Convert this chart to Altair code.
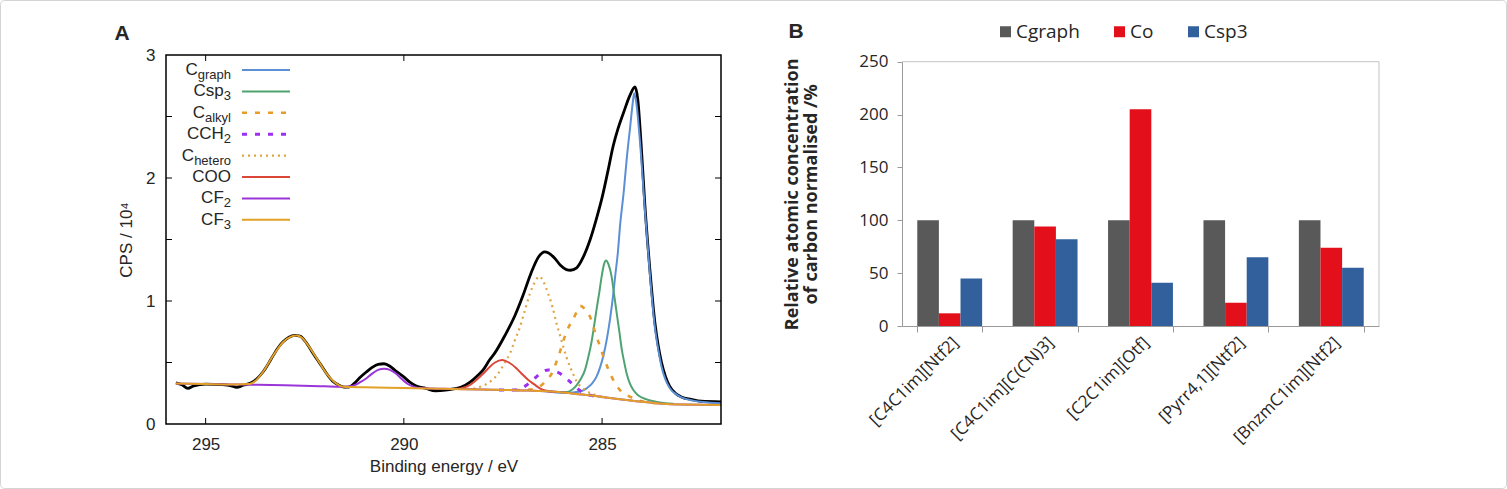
import altair as alt
import pandas as pd

# ---------------- Panel A: XPS C 1s spectrum ----------------
# (binding energy / eV, CPS / 1e4)
MEASURED = [(295.75, 0.335), (295.6, 0.32), (295.45, 0.29), (295.3, 0.31), (295.0, 0.325), (294.6, 0.32),
            (294.35, 0.31), (294.22, 0.298), (294.05, 0.315), (293.85, 0.335), (293.7, 0.37), (293.55, 0.425),
            (293.4, 0.5), (293.29, 0.56), (293.15, 0.63), (293.04, 0.67), (292.9, 0.705), (292.75, 0.72),
            (292.62, 0.715), (292.45, 0.655), (292.3, 0.58), (292.2, 0.53), (292.05, 0.46), (291.95, 0.41),
            (291.8, 0.35), (291.69, 0.325), (291.5, 0.3), (291.4, 0.3), (291.25, 0.33), (291.1, 0.38),
            (290.94, 0.425), (290.8, 0.46), (290.65, 0.485), (290.5, 0.49), (290.35, 0.47), (290.2, 0.43),
            (290.01, 0.385), (289.85, 0.34), (289.7, 0.31), (289.45, 0.29), (289.2, 0.27), (288.95, 0.275),
            (288.75, 0.285), (288.55, 0.3), (288.33, 0.34), (288.15, 0.39), (288.0, 0.44), (287.84, 0.52),
            (287.7, 0.58), (287.45, 0.72), (287.2, 0.88), (287.0, 1.04), (286.8, 1.22), (286.6, 1.36),
            (286.45, 1.4), (286.35, 1.39), (286.2, 1.35), (286.05, 1.29), (285.9, 1.255), (285.8, 1.25),
            (285.64, 1.27), (285.47, 1.36), (285.3, 1.5), (285.15, 1.66), (285.0, 1.84), (284.85, 2.06),
            (284.72, 2.26), (284.6, 2.4), (284.46, 2.53), (284.3, 2.67), (284.17, 2.74), (284.1, 2.64),
            (284.02, 2.3), (283.92, 1.78), (283.79, 1.24), (283.67, 0.83), (283.58, 0.63), (283.5, 0.5),
            (283.4, 0.385), (283.3, 0.31), (283.15, 0.25), (283.0, 0.22), (282.75, 0.2), (282.5, 0.185),
            (282.0, 0.18)]

C_GRAPH = [(286.5, 0.268), (285.9, 0.252), (285.73, 0.256), (285.5, 0.27), (285.39, 0.29), (285.25, 0.33),
           (285.14, 0.385), (285.05, 0.46), (284.97, 0.55), (284.88, 0.69), (284.8, 0.85), (284.72, 1.05),
           (284.67, 1.2), (284.6, 1.4), (284.55, 1.6), (284.45, 1.9), (284.38, 2.15), (284.29, 2.42),
           (284.23, 2.6), (284.19, 2.69), (284.14, 2.62), (284.04, 2.28), (283.92, 1.74), (283.79, 1.2),
           (283.67, 0.79), (283.58, 0.6), (283.5, 0.466), (283.4, 0.36), (283.29, 0.29), (283.1, 0.235),
           (282.95, 0.21), (282.7, 0.19), (282.45, 0.178), (282.0, 0.168)]

C_SP3 = [(286.3, 0.263), (285.89, 0.26), (285.75, 0.28), (285.64, 0.317), (285.53, 0.37), (285.43, 0.44),
         (285.35, 0.54), (285.27, 0.66), (285.2, 0.8), (285.14, 0.93), (285.07, 1.07), (285.01, 1.2),
         (284.95, 1.3), (284.9, 1.33), (284.84, 1.3), (284.76, 1.2), (284.7, 1.06), (284.63, 0.9),
         (284.56, 0.74), (284.5, 0.6), (284.44, 0.5), (284.38, 0.41), (284.3, 0.33), (284.21, 0.276),
         (284.1, 0.235), (283.96, 0.21), (283.62, 0.18), (283.2, 0.165)]

C_ALKYL = [(287.2, 0.275), (286.82, 0.28), (286.52, 0.317), (286.4, 0.36), (286.27, 0.41), (286.18, 0.48),
           (286.1, 0.55), (286.02, 0.63), (285.94, 0.71), (285.84, 0.79), (285.73, 0.85), (285.63, 0.92),
           (285.55, 0.96), (285.45, 0.94), (285.38, 0.91), (285.3, 0.87), (285.22, 0.79), (285.14, 0.71),
           (285.05, 0.63), (284.97, 0.55), (284.86, 0.46), (284.76, 0.385), (284.63, 0.31), (284.5, 0.26),
           (284.35, 0.23), (284.21, 0.21), (284.0, 0.185), (283.6, 0.168)]

C_CH2 = [(287.6, 0.277), (287.24, 0.276), (287.05, 0.29), (286.9, 0.317), (286.78, 0.35), (286.65, 0.385),
         (286.5, 0.425), (286.36, 0.44), (286.2, 0.43), (286.06, 0.41), (285.94, 0.38), (285.81, 0.344),
         (285.66, 0.3), (285.51, 0.26), (285.3, 0.235), (285.0, 0.22)]

C_HETERO = [(288.7, 0.285), (288.33, 0.285), (288.15, 0.295), (287.96, 0.317), (287.8, 0.35), (287.62, 0.41),
            (287.47, 0.49), (287.32, 0.575), (287.2, 0.68), (287.07, 0.79), (286.95, 0.92), (286.82, 1.06),
            (286.7, 1.15), (286.58, 1.2), (286.47, 1.15), (286.36, 1.06), (286.25, 0.95), (286.15, 0.82),
            (286.06, 0.72), (285.98, 0.63), (285.9, 0.545), (285.81, 0.466), (285.72, 0.4), (285.64, 0.344),
            (285.54, 0.305), (285.43, 0.276), (285.2, 0.24), (284.9, 0.215)]

C_COO = [(289.2, 0.285), (288.67, 0.285), (288.5, 0.295), (288.33, 0.317), (288.2, 0.35), (288.08, 0.385),
         (287.95, 0.425), (287.83, 0.466), (287.7, 0.5), (287.52, 0.52), (287.35, 0.5), (287.15, 0.45),
         (287.0, 0.4), (286.86, 0.358), (286.7, 0.32), (286.57, 0.29), (286.4, 0.27), (286.23, 0.26)]

C_F2 = [(295.75, 0.33), (295.0, 0.325), (294.3, 0.322), (293.9, 0.32), (293.0, 0.315), (292.0, 0.306),
        (291.6, 0.302), (291.3, 0.31), (291.1, 0.34), (290.95, 0.37), (290.8, 0.41), (290.65, 0.44),
        (290.5, 0.45), (290.35, 0.44), (290.2, 0.41), (290.05, 0.365), (289.9, 0.325), (289.72, 0.3),
        (289.5, 0.29), (289.0, 0.286), (288.0, 0.28), (287.0, 0.273), (286.0, 0.257), (285.5, 0.24),
        (285.0, 0.22), (284.5, 0.2), (284.0, 0.18), (283.5, 0.165), (283.0, 0.158), (282.0, 0.155)]

C_F3 = [(295.75, 0.33), (295.0, 0.325), (294.3, 0.322), (293.9, 0.325), (293.75, 0.35), (293.55, 0.425),
        (293.3, 0.555), (293.05, 0.665), (292.85, 0.71), (292.7, 0.72), (292.55, 0.695), (292.45, 0.655),
        (292.2, 0.535), (291.95, 0.41), (291.75, 0.34), (291.55, 0.305), (291.35, 0.3), (291.0, 0.298),
        (290.0, 0.293), (289.0, 0.286), (288.0, 0.28), (287.0, 0.273), (286.0, 0.257), (285.5, 0.24),
        (285.0, 0.22), (284.5, 0.2), (284.0, 0.18), (283.5, 0.165), (283.0, 0.158), (282.0, 0.155)]

A_XTICKS = [285, 290, 295]
A_YLABELS = [0, 1, 2, 3]
A_YTICKS = [0.5, 1.0, 1.5, 2.0, 2.5]

# ---------------- Panel B: grouped bars ----------------
CATEGORIES = ["[C4C1im][Ntf2]", "[C4C1im][C(CN)3]", "[C2C1im][Otf]", "[Pyrr4,1][Ntf2]", "[BnzmC1im][Ntf2]"]
SERIES = ["Cgraph", "Co", "Csp3"]
CGRAPH_VALS = [100, 100, 100, 100, 100]
CO_VALS = [12, 94, 205, 22, 74]
CSP3_VALS = [45, 82, 41, 65, 55]
B_YTICKS = [0, 50, 100, 150, 200, 250]

# ---------------- layout (pixels on the 1507 x 489 canvas) ----------------
W, H = 1507, 489
AX0, AX1, AY0, AY1 = 166, 721, 55, 424       # panel A plot box
BX0, BX1, BY0, BY1 = 902, 1379, 61.7, 326     # panel B plot box
FONT_A = "Liberation Sans"
FONT_B = "Open Sans"
TXT = "#262626"

xsA = alt.Scale(domain=[282, 296], range=[AX1, AX0], nice=False, zero=False)
ysA = alt.Scale(domain=[0, 3], range=[AY1, AY0], nice=False, zero=False)
axA_x = alt.Axis(orient="bottom", offset=-(H - AY1), values=A_XTICKS, format="d", ticks=False, domain=False,
                 grid=False, labelFont=FONT_A, labelFontSize=17, labelColor=TXT, labelPadding=12,
                 title="Binding energy / eV", titleFont=FONT_A, titleFontSize=17, titleFontWeight="normal",
                 titleColor=TXT, titlePadding=6)
axA_y = alt.Axis(orient="left", offset=-AX0, values=A_YLABELS, format="d", ticks=False, domain=False,
                 grid=False, labelFont=FONT_A, labelFontSize=17, labelColor=TXT, labelPadding=11,
                 title="CPS / 10\u2074", titleFont=FONT_A, titleFontSize=17, titleFontWeight="normal",
                 titleColor=TXT, titlePadding=10)
XA = alt.X("e:Q", scale=xsA, axis=axA_x)
YA = alt.Y("v:Q", scale=ysA, axis=axA_y)


def curve(points, color, width, dash=None):
    df = pd.DataFrame(points, columns=["e", "v"])
    kw = dict(color=color, strokeWidth=width, interpolate="monotone")
    if dash:
        kw["strokeDash"] = dash
    return alt.Chart(df).mark_line(**kw).encode(x=XA, y=YA)


BLUE, GREEN, ORANGE, PURPLE, RED, GOLD, VIOLET, DOTOR = (
    "#5b8fd6", "#4fa371", "#e69b2a", "#9b30f0", "#dc4638", "#e2a126", "#9a35d8", "#e0a445")

STYLES = [  # (label main, subscript, colour, width, dash)
    ("C", "graph", BLUE, 2, None),
    ("Csp", "3", GREEN, 2, None),
    ("C", "alkyl", ORANGE, 2.6, [5, 8]),
    ("CCH", "2", PURPLE, 3, [5, 8]),
    ("C", "hetero", DOTOR, 2.2, [2, 4]),
    ("COO", "", RED, 2, None),
    ("CF", "2", VIOLET, 2, None),
    ("CF", "3", GOLD, 2, None),
]
COMPONENTS = [C_GRAPH, C_SP3, C_ALKYL, C_CH2, C_HETERO, C_COO, C_F2, C_F3]

a_layers = [curve(MEASURED, "black", 2.8)]
for pts, st in zip(COMPONENTS, STYLES):
    a_layers.append(curve(pts, st[2], st[3], st[4]))

# inward ticks (gnuplot style)
ytick_df = pd.DataFrame({"v": A_YTICKS})
xtick_df = pd.DataFrame({"e": A_XTICKS})
a_layers += [
    alt.Chart(ytick_df).mark_rule(color="black", strokeWidth=1).encode(y=YA, x=alt.value(AX0), x2=alt.value(AX0 + 6)),
    alt.Chart(ytick_df).mark_rule(color="black", strokeWidth=1).encode(y=YA, x=alt.value(AX1 - 6), x2=alt.value(AX1)),
    alt.Chart(xtick_df).mark_rule(color="black", strokeWidth=1).encode(x=XA, y=alt.value(AY1 - 6), y2=alt.value(AY1)),
    alt.Chart(xtick_df).mark_rule(color="black", strokeWidth=1).encode(x=XA, y=alt.value(AY0), y2=alt.value(AY0 + 6)),
]
panelA = alt.layer(*a_layers)

# ---------------- Panel B ----------------
bar_df = pd.DataFrame({
    "cat": CATEGORIES * 3,
    "series": [SERIES[0]] * 5 + [SERIES[1]] * 5 + [SERIES[2]] * 5,
    "val": CGRAPH_VALS + CO_VALS + CSP3_VALS,
})
xsB = alt.Scale(domain=CATEGORIES, range=[BX0, BX1], paddingInner=0.32, paddingOuter=0.16)
ysB = alt.Scale(domain=[0, 250], range=[BY1, BY0], nice=False, zero=True)
bars = alt.Chart(bar_df).mark_bar().encode(
    x=alt.X("cat:N", scale=xsB, sort=CATEGORIES,
            axis=alt.Axis(orient="bottom", offset=-(H - BY1), tickBand="extent", tickSize=6,
                          tickColor="#9a9a9a", domainColor="#9a9a9a", grid=False, labelAngle=-45,
                          labelFont=FONT_B, labelFontSize=17, labelColor=TXT, labelPadding=2, title=None)),
    xOffset=alt.XOffset("series:N", sort=SERIES, scale=alt.Scale(domain=SERIES)),
    y=alt.Y("val:Q", scale=ysB,
            axis=alt.Axis(orient="left", offset=-BX0, values=B_YTICKS, tickSize=5, tickColor="#9a9a9a",
                          domainColor="#9a9a9a", grid=False, labelFont=FONT_B, labelFontSize=17,
                          labelColor=TXT, labelPadding=9,
                          title=["Relative atomic concentration", "of carbon normalised /%"],
                          titleFont=FONT_B, titleFontSize=18, titleFontWeight="bold", titleColor=TXT,
                          titleLineHeight=19, titlePadding=38)),
    color=alt.Color("series:N", scale=alt.Scale(domain=SERIES, range=["#595959", "#e3101b", "#31609c"]),
                    legend=alt.Legend(orient="none", legendX=996, legendY=22, direction="horizontal",
                                      title=None, symbolType="square", symbolSize=121, symbolStrokeWidth=0,
                                      labelFont=FONT_B, labelFontSize=19, labelColor=TXT, labelOffset=1,
                                      columnPadding=30, padding=0)),
)
panelB = alt.layer(bars)

# ---------------- decorations (labels, frames, legend of panel A) ----------------
one = pd.DataFrame({"k": [0]})


def text(s, x, y, size, weight="normal", align="left", baseline="middle", font=FONT_A, color=TXT):
    return alt.Chart(one).mark_text(text=s, fontSize=size, fontWeight=weight, align=align, baseline=baseline,
                                    font=font, color=color).encode(x=alt.value(x), y=alt.value(y))


ARIAL_W = {"g": 0.556, "r": 0.333, "a": 0.556, "p": 0.556, "h": 0.556, "l": 0.222, "k": 0.5, "y": 0.5,
           "e": 0.556, "t": 0.278, "o": 0.556, "2": 0.556, "3": 0.556}
MAIN_SIZE, SUB_SIZE = 17, 13
LEG_RIGHT, LINE_X0, LINE_X1, ROW0, ROWSTEP = 231, 242, 290, 70, 21.4

deco = [
    alt.Chart(one).mark_rect(filled=False, stroke="#d4d4d4", strokeWidth=1, cornerRadius=4).encode(
        x=alt.value(0.5), x2=alt.value(W - 0.5), y=alt.value(0.5), y2=alt.value(H - 0.5)),
    alt.Chart(one).mark_rect(filled=False, stroke="black", strokeWidth=1.5).encode(
        x=alt.value(AX0), x2=alt.value(AX1), y=alt.value(AY0), y2=alt.value(AY1)),
    alt.Chart(one).mark_rule(color="#c4c4c4", strokeWidth=1).encode(
        x=alt.value(BX0), x2=alt.value(BX1), y=alt.value(BY0)),
    alt.Chart(one).mark_rule(color="#c4c4c4", strokeWidth=1).encode(
        x=alt.value(BX1), y=alt.value(BY0), y2=alt.value(BY1)),
    text("A", 122, 34, 21, weight="bold", align="center"),
    text("B", 796, 32, 21, weight="bold", align="center"),
]
for i, (main, sub, color, width, dash) in enumerate(STYLES):
    ry = ROW0 + ROWSTEP * i
    wsub = sum(ARIAL_W.get(c, 0.556) for c in sub) * SUB_SIZE
    xend = LEG_RIGHT - wsub
    deco.append(text(main, xend, ry, MAIN_SIZE, align="right"))
    if sub:
        deco.append(text(sub, xend, ry + 9, SUB_SIZE, align="left", baseline="alphabetic"))
    kw = dict(color=color, strokeWidth=width)
    if dash:
        kw["strokeDash"] = dash
    deco.append(alt.Chart(one).mark_rule(**kw).encode(
        x=alt.value(LINE_X0), x2=alt.value(LINE_X1), y=alt.value(ry)))

decor = alt.layer(*deco)

chart = alt.layer(panelA, panelB, decor).resolve_scale(
    x="independent", y="independent", color="independent"
).properties(
    width=W, height=H, padding=0, autosize=alt.AutoSizeParams(type="none"), background="white"
).configure_view(strokeWidth=0)

chart.save("out.html", embed_options={"renderer": "svg", "actions": False})
